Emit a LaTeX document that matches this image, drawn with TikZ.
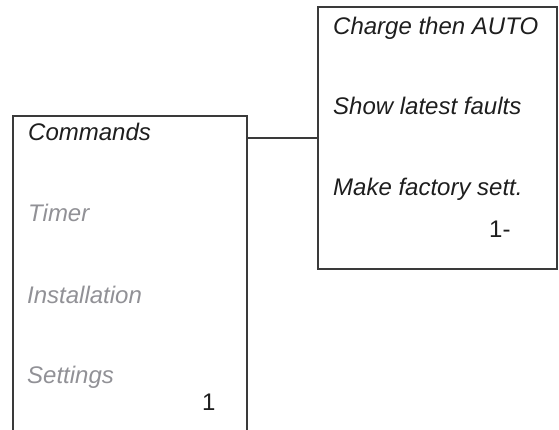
\documentclass[tikz,border=0pt]{standalone}
\usepackage{fontspec}
\setmainfont{Liberation Sans}
\definecolor{linegray}{RGB}{58,58,58}
\definecolor{textdark}{RGB}{30,30,30}
\definecolor{textgray}{RGB}{145,145,150}
\begin{document}
\begin{tikzpicture}[x=1pt,y=-1pt,
  boxline/.style={draw=linegray,line width=1.3pt},
  frame/.style={inner sep=0pt,outer sep=0pt,rectangle},
  item/.style={anchor=base west,inner sep=0pt,font=\fontsize{24}{28}\selectfont\itshape,text=textdark},
  dimitem/.style={item,text=textgray},
  num/.style={anchor=base west,inner sep=0pt,font=\fontsize{24}{28}\selectfont,text=textdark}]
\useasboundingbox (0,0) rectangle (559,430);
% right box
\node[frame,boxline,minimum width=239pt,minimum height=262pt] (rbox) at (437.5,138) {};
% left box (open at the bottom)
\node[frame,minimum width=234pt,minimum height=316pt] (lbox) at (130,274) {};
\draw[boxline] (lbox.south west) -- (lbox.north west) -- (lbox.north east) -- (lbox.south east);
% connector
\draw[boxline] (rbox.west) -- (rbox.west -| lbox.east);
% left texts
\node[item] (cmd) at (28,141) {Commands};
\node[dimitem] (timer) at (28,222) {Timer};
\node[dimitem] (inst) at (27,303) {Installation};
\node[dimitem] (sett) at (27,383) {Settings};
\node[num] (one) at (202,410) {1};
% right texts
\node[item] (charge) at (333,35) {Charge then AUTO};
\node[item] (faults) at (333,115) {Show latest faults};
\node[item] (factory) at (333,196) {Make factory sett.};
\node[num] (onedash) at (489,238) {1-};
\end{tikzpicture}
\end{document}
